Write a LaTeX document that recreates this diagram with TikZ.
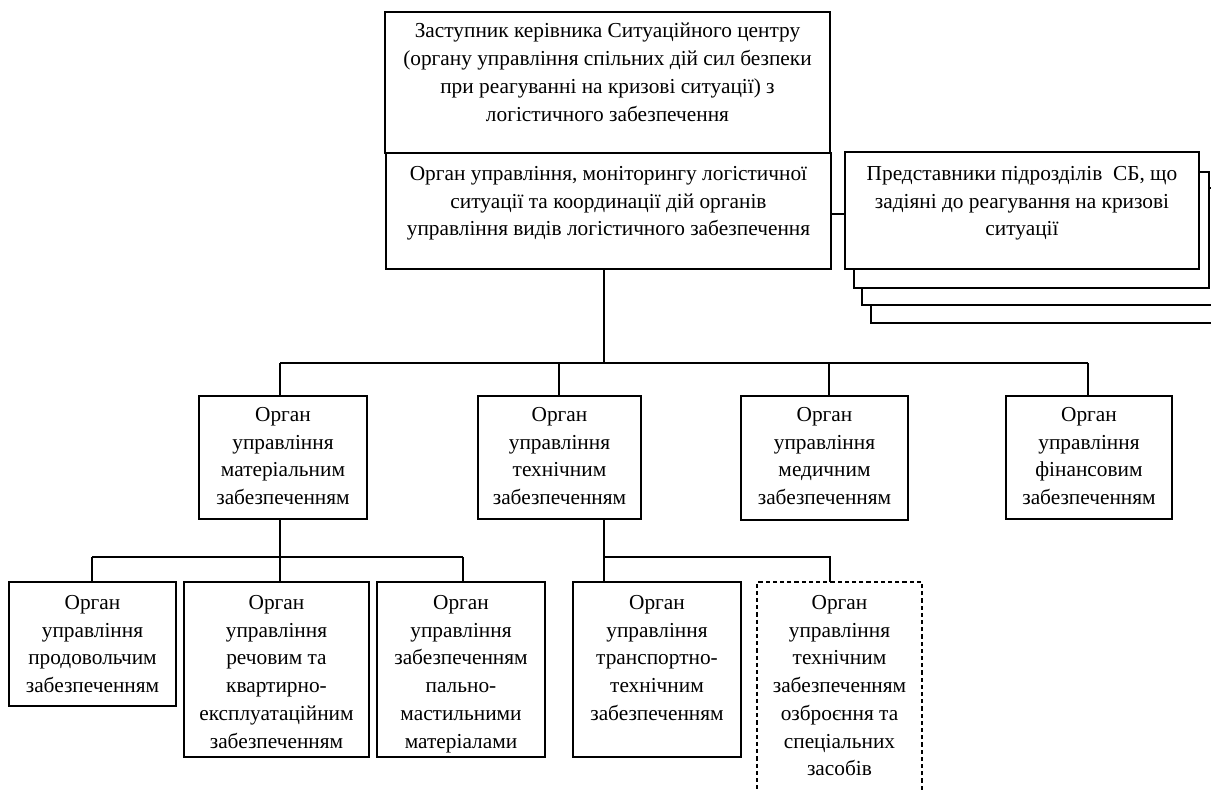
\documentclass[tikz,border=0pt]{standalone}
\usepackage{fontspec}
\setmainfont{Liberation Serif}
\begin{document}
\begin{tikzpicture}[x=0.75pt,y=-0.75pt,
  box/.style={draw, line width=0.85pt, fill=white, inner sep=0pt, outer sep=0pt},
  sz/.style 2 args={minimum width=#1*0.75pt, minimum height=#2*0.75pt},
  txt/.style={align=center, inner sep=0pt, anchor=north, font=\fontsize{16}{20.8}\selectfont},
  conn/.style={line width=0.85pt},
  dashbox/.style={draw, line width=0.85pt, dash pattern=on 3.2pt off 2.2pt, inner sep=0pt, outer sep=0pt}]
\useasboundingbox (0,0) rectangle (1211,791);

% top boxes
\node[box, sz={445}{141}] (z) at (607.5,82.5) {};
\node[txt] (zt) at (607.5,23) {Заступник керівника Ситуаційного центру\\(органу управління спільних дій сил безпеки\\при реагуванні на кризові ситуації) з\\логістичного забезпечення};
\node[box, sz={445}{116}] (o) at (608.5,211) {};
\node[txt] (ot) at (608.5,166) {Орган управління, моніторингу логістичної\\ситуації та координації дій органів\\управління видів логістичного забезпечення};

% stacked representatives boxes
\node[box, sz={359}{117}] (s3) at (1050.5,264.5) {};
\node[box, sz={368}{117}] (s2) at (1046,246.5) {};
\node[box, sz={355}{116}] (s1) at (1031.5,230) {};
\node[box, sz={354}{117}] (r) at (1022,210.5) {};
\node[txt] (rt) at (1022,166) {Представники підрозділів \ СБ, що\\задіяні до реагування на кризові\\ситуації};

% level 2
\node[box, sz={168}{123}] (m) at (283,457.5) {};
\node[txt] (mt) at (283,407) {Орган\\управління\\матеріальним\\забезпеченням};
\node[box, sz={163}{123}] (t) at (559.5,457.5) {};
\node[txt] (tt) at (559.5,407) {Орган\\управління\\технічним\\забезпеченням};
\node[box, sz={167}{124}] (med) at (824.5,458) {};
\node[txt] (medt) at (824.5,407) {Орган\\управління\\медичним\\забезпеченням};
\node[box, sz={166}{123}] (f) at (1089,457.5) {};
\node[txt] (ft) at (1089,407) {Орган\\управління\\фінансовим\\забезпеченням};

% level 3
\node[box, sz={167}{124}] (p) at (92.5,644) {};
\node[txt] (pt) at (92.5,595) {Орган\\управління\\продовольчим\\забезпеченням};
\node[box, sz={185}{175}] (rc) at (276.5,669.5) {};
\node[txt] (rct) at (276.5,595) {Орган\\управління\\речовим та\\квартирно-\\експлуатаційним\\забезпеченням};
\node[box, sz={168}{175}] (pm) at (461,669.5) {};
\node[txt] (pmt) at (461,595) {Орган\\управління\\забезпеченням\\пально-\\мастильними\\матеріалами};
\node[box, sz={168}{175}] (tr) at (657,669.5) {};
\node[txt] (trt) at (657,595) {Орган\\управління\\транспортно-\\технічним\\забезпеченням};
\node[dashbox, sz={165}{230}] (d) at (839.5,697) {};
\node[txt] (dt) at (839.5,595) {Орган\\управління\\технічним\\забезпеченням\\озброєння та\\спеціальних\\засобів};

% connectors
\draw[conn] (o.east |- 0,214) -- (r.west |- 0,214);

\coordinate (b2o) at (604,363);
\coordinate (b2m) at (280,363);
\coordinate (b2t) at (559,363);
\coordinate (b2med) at (829,363);
\coordinate (b2f) at (1088,363);
\draw[conn] (b2o |- o.south) -- (b2o);
\draw[conn] (b2m) -- (b2f);
\draw[conn] (b2m) -- (b2m |- m.north);
\draw[conn] (b2t) -- (b2t |- t.north);
\draw[conn] (b2med) -- (b2med |- med.north);
\draw[conn] (b2f) -- (b2f |- f.north);

\coordinate (b3m) at (280,557);
\coordinate (b3p) at (92,557);
\coordinate (b3pm) at (463,557);
\draw[conn] (b3m |- m.south) -- (b3m |- rc.north);
\draw[conn] (b3p) -- (b3pm);
\draw[conn] (b3p) -- (b3p |- p.north);
\draw[conn] (b3pm) -- (b3pm |- pm.north);

\coordinate (b3t) at (604,557);
\coordinate (b3d) at (830,557);
\draw[conn] (b3t |- t.south) -- (b3t |- tr.north);
\draw[conn] (b3t) -- (b3d) -- (b3d |- d.north);
\end{tikzpicture}
\end{document}
